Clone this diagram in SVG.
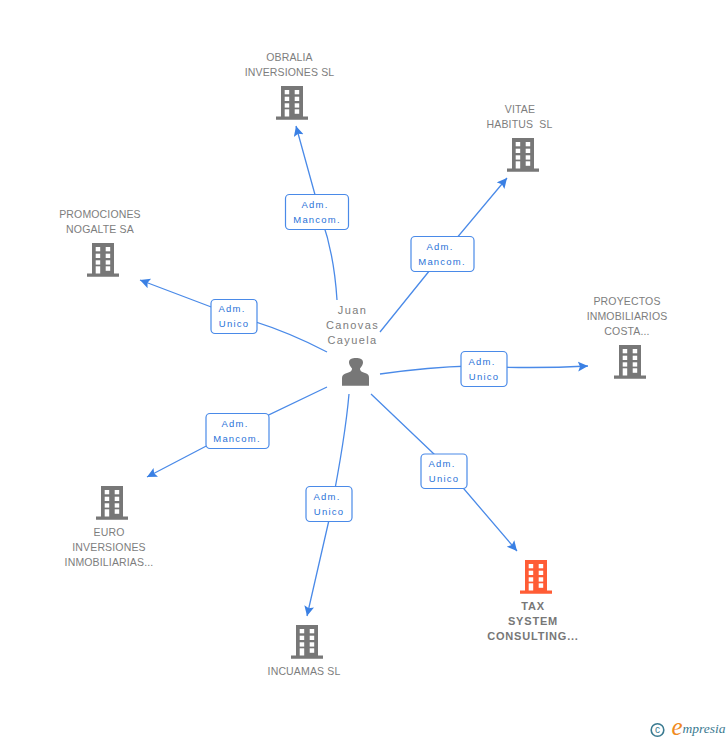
<svg xmlns="http://www.w3.org/2000/svg" width="728" height="740" viewBox="0 0 728 740">
<style>
text{font-family:"Liberation Sans",Arial,sans-serif;text-anchor:middle}
.n{font-size:10.5px;fill:#7d7d7d;letter-spacing:.15px}
.p{font-size:11px;fill:#7d7d7d;letter-spacing:1.4px}
.b{font-size:11px;font-weight:bold;fill:#777;letter-spacing:.8px}
.l{font-size:9.5px;fill:#2a72d8;letter-spacing:1.2px}
.c{fill:none;stroke:#4a8ae8;stroke-width:1.3}
.box{fill:#fff;stroke:#4a8ae8;stroke-width:1.2}
</style>
<defs>
<marker id="a" markerUnits="userSpaceOnUse" markerWidth="12" markerHeight="12" refX="10" refY="5" orient="auto"><path d="M0 0L10 5L0 10L2 5Z" fill="#3a80e4"/></marker>
<g id="bld"><path d="M-11 -17H11V13.500H16V16.700H-16V13.500H-11Z"/><g fill="#fff"><rect x="-7.300" y="-13" width="4.500" height="4.300"/><rect x="2.700" y="-13" width="4.500" height="4.300"/><rect x="-7.300" y="-6.300" width="4.500" height="4.300"/><rect x="2.700" y="-6.300" width="4.500" height="4.300"/><rect x="-7.300" y="0.300" width="4.500" height="4.300"/><rect x="2.700" y="0.300" width="4.500" height="4.300"/><rect x="-7.300" y="6.300" width="4.500" height="7.200"/><rect x="2.700" y="6.300" width="4.500" height="4.500"/></g></g>
</defs>
<g id="connectors">
<path class="c" marker-end="url(#a)" d="M337 300C335 268 329 240 322 220L296 126"/>
<path class="c" marker-end="url(#a)" d="M380 332L430 270L507 178"/>
<path class="c" marker-end="url(#a)" d="M380 374Q430 367 470 366Q530 369 588 366"/>
<path class="c" marker-end="url(#a)" d="M371 394L435 455L517 551"/>
<path class="c" marker-end="url(#a)" d="M349 394C345 440 335 490 329 520L307 616"/>
<path class="c" marker-end="url(#a)" d="M327 387L235 431L147 477"/>
<path class="c" marker-end="url(#a)" d="M327 352C300 338 270 325 235 316L140 280"/>
</g>
<g id="node-obralia"><text class="n" x="289.500" y="61">OBRALIA</text><text class="n" x="289.500" y="76">INVERSIONES SL</text><use href="#bld" x="292" y="103" fill="#777"/></g>
<g id="node-vitae"><text class="n" x="520" y="113">VITAE</text><text class="n" x="519.500" y="128" xml:space="preserve">HABITUS  SL</text><use href="#bld" x="523" y="155" fill="#777"/></g>
<g id="node-promociones"><text class="n" x="100" y="218">PROMOCIONES</text><text class="n" x="100" y="233">NOGALTE SA</text><use href="#bld" x="103" y="260" fill="#777"/></g>
<g id="node-proyectos"><text class="n" x="627" y="305">PROYECTOS</text><text class="n" x="627" y="320">INMOBILIARIOS</text><text class="n" x="627" y="335">COSTA...</text><use href="#bld" x="630" y="362" fill="#777"/></g>
<g id="node-euro"><text class="n" x="109" y="536">EURO</text><text class="n" x="109" y="551">INVERSIONES</text><text class="n" x="109" y="566">INMOBILIARIAS...</text><use href="#bld" x="112" y="503" fill="#777"/></g>
<g id="node-incuamas"><text class="n" x="304" y="675">INCUAMAS SL</text><use href="#bld" x="307" y="642" fill="#777"/></g>
<g id="node-tax"><text class="b" x="533" y="610">TAX</text><text class="b" x="533" y="625">SYSTEM</text><text class="b" x="533" y="640">CONSULTING...</text><use href="#bld" x="536" y="577" fill="#ff5c35"/></g>
<g id="node-juan"><text class="p" x="352.500" y="314">Juan</text><text class="p" x="352.500" y="329">Canovas</text><text class="p" x="352.500" y="344">Cayuela</text>
<path fill="#777" d="M342 385.700V378C342 375 344 374 347 373C350 372 352 371 352 369V368.500C350 366 349 364 349 362.500C349 359 352 358 356 358C360 358 363 359 363 362.500C363 364 362 366 360 368.500V369C360 371 362 372 365 373C368 374 369 375 369 378V385.700Z"/></g>
<g id="edge-labels">
<g><rect class="box" x="285.500" y="194.500" width="63" height="35" rx="4"/><text class="l" x="315" y="208">Adm.</text><text class="l" x="317" y="223">Mancom.</text></g>
<g><rect class="box" x="411" y="236.500" width="63" height="35" rx="4"/><text class="l" x="440" y="250">Adm.</text><text class="l" x="442" y="265">Mancom.</text></g>
<g><rect class="box" x="211" y="299.500" width="46" height="34" rx="4"/><text class="l" x="232" y="312">Adm.</text><text class="l" x="234" y="327">Unico</text></g>
<g><rect class="box" x="461" y="351.500" width="46" height="35" rx="4"/><text class="l" x="482" y="365">Adm.</text><text class="l" x="484" y="380">Unico</text></g>
<g><rect class="box" x="206" y="413.500" width="63" height="35" rx="4"/><text class="l" x="235" y="427">Adm.</text><text class="l" x="237" y="442">Mancom.</text></g>
<g><rect class="box" x="421" y="454" width="46" height="34.500" rx="4"/><text class="l" x="442" y="467">Adm.</text><text class="l" x="444" y="482">Unico</text></g>
<g><rect class="box" x="306" y="486.500" width="46" height="35" rx="4"/><text class="l" x="327" y="500">Adm.</text><text class="l" x="329" y="515">Unico</text></g>
</g>
<g id="logo"><circle cx="657.500" cy="730" r="6.300" fill="none" stroke="#3a7a90" stroke-width="1.600"/><text x="657.500" y="733" style="font-size:10px;fill:#3a7a90">c</text><text x="677" y="735" style="font-size:25px;font-style:italic;fill:#f08a20;font-family:'Liberation Serif',serif">e</text><text x="704" y="733" style="font-size:13.500px;font-style:italic;fill:#3a7a90;font-family:'Liberation Serif',serif">mpresia</text></g>
</svg>
